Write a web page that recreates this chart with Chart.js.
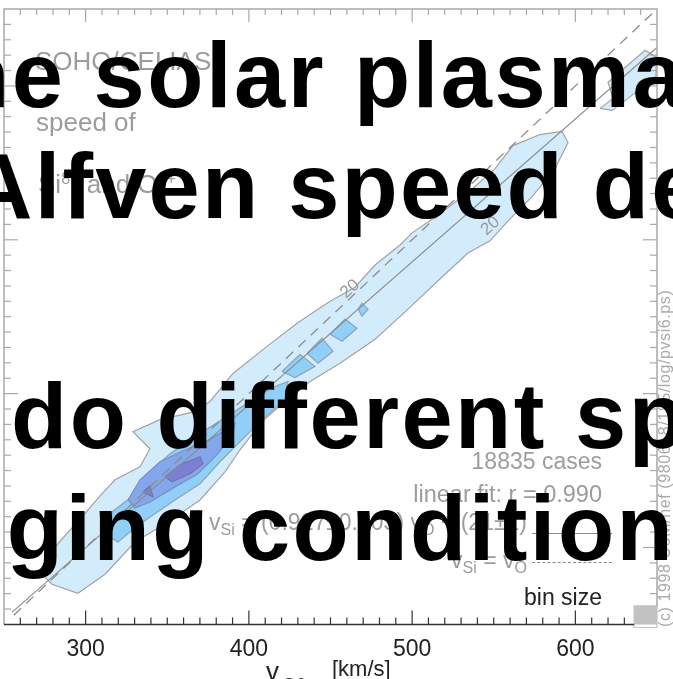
<!DOCTYPE html>
<html><head><meta charset="utf-8">
<script src="https://cdn.jsdelivr.net/npm/chart.js@4"></script>
<style>
html,body{margin:0;padding:0;background:#fff;}
#wrap{position:relative;width:673px;height:679px;overflow:hidden;background:#fff;}
canvas{position:absolute;left:0;top:0;}
.ann{position:absolute;font-family:"Liberation Sans",Arial,sans-serif;color:#9c9c9c;white-space:nowrap;line-height:1;}
.r{text-align:right;}
.sb{font-size:0.7em;position:relative;top:0.3em;}
.sp{font-size:0.62em;position:relative;top:-0.55em;}
.big{position:absolute;font-family:"Liberation Sans",Arial,sans-serif;font-weight:bold;font-size:92px;letter-spacing:2.5px;color:#000;white-space:nowrap;line-height:92px;}
.ls{position:absolute;height:0;border-top:1.3px solid #8a8a8a;}
</style></head><body>
<div id="wrap">
<canvas id="c" width="673" height="679"></canvas>

<div class="ann" style="left:35px;top:48px;font-size:26px;">SOHO/CELIAS</div>
<div class="ann" style="left:36px;top:109px;font-size:26px;">speed of</div>
<div class="ann" style="left:38px;top:171px;font-size:26px;">Si<span class="sp">8+</span> and O<span class="sp">6+</span></div>

<div class="ann r" style="right:71px;top:450px;font-size:23px;">18835 cases</div>
<div class="ann r" style="right:71px;top:483px;font-size:23.5px;">linear fit: r = 0.990</div>
<div class="ann r" style="right:146px;top:511px;font-size:23px;">v<span class="sb">Si</span> = (0.927±0.003) v<span class="sb">O</span> + (21±1)</div>
<div class="ls" style="left:532px;top:533px;width:80px;"></div>
<div class="ann r" style="right:146px;top:549px;font-size:23px;">v<span class="sb">Si</span> = v<span class="sb">O</span></div>
<div class="ls" style="left:532px;top:562px;width:80px;border-top-style:dashed;"></div>
<div class="ann r" style="right:71px;top:586px;font-size:23px;color:#222;">bin size</div>

<div class="ann" style="left:657px;top:627px;font-size:16px;letter-spacing:0.6px;color:#aaa;transform:rotate(-90deg);transform-origin:left top;">(c) 1998 UoM/hef (980618/185/log/pvsi6.ps)</div>

<div class="ann" style="left:266px;top:658px;font-size:26px;color:#222;">v</div>
<div class="ann" style="left:282px;top:676px;font-size:18px;color:#222;">O6+</div>
<div class="ann" style="left:332px;top:658px;font-size:22px;color:#222;">[km/s]</div>

<div class="big" style="left:-80px;top:29px;">the solar plasma</div>
<div class="big" style="left:-34px;top:140px;letter-spacing:2.2px;">Alfven speed de</div>
<div class="big" style="left:11px;top:370px;">do different sp</div>
<div class="big" style="left:-52px;top:482px;">nging condition</div>
</div>
<script>
// ---- data (km/s) ----
const xTickLabels = [300, 400, 500, 600];
const identityLine = [[256, 256], [649, 649]];
const fitLine = [[255, 258], [650, 625]];
const outerBand = [[295.3,270.2],[279.4,276.1],[272.1,283.9],[276.3,293.7],[285.5,305.5],[297.8,319.8],[308.8,333.5],[318.0,344.0],[333.3,352.4],[339.4,364.2],[329.0,375.3],[345.6,383.1],[367.0,388.3],[376.2,394.9],[390.3,413.1],[411.1,430.7],[429.5,445.8],[449.7,460.1],[465.0,469.2],[477.3,483.6],[492.6,496.6],[500.0,504.5],[517.1,516.9],[535.5,531.9],[550.8,546.2],[561.8,561.2],[578.3,568.4],[591.8,570.4],[595.5,563.2],[587.5,546.2],[573.5,528.0],[558.8,512.3],[547.7,499.3],[534.2,491.4],[518.3,475.8],[497.5,454.9],[477.3,435.3],[455.8,419.7],[437.5,407.9],[423.4,396.2],[408.1,381.8],[394.6,363.5],[385.4,349.2],[370.1,330.9],[350.5,316.6],[330.2,303.5],[311.9,282.6],[295.3,270.2]];
const outerIsland = [[615.1,585.4],[623.1,591.9],[620.0,602.4],[642.7,623.2],[649.4,618.7],[649.4,606.3],[632.3,591.9],[622.5,584.1],[615.1,585.4]];
const level2Lower = [[314.9,306.8],[316.2,323.1],[324.1,329.6],[333.3,337.4],[339.4,349.2],[351.7,360.9],[367.0,372.0],[383.5,383.1],[400.7,394.9],[416.0,404.6],[424.0,407.9],[422.1,396.2],[408.1,383.1],[394.6,368.8],[382.3,355.7],[370.1,341.4],[354.8,330.9],[339.4,319.8],[327.2,310.0],[319.8,303.5],[314.9,306.8]];
const level2D1 = [[466.9,454.9],[469.3,458.8],[473.0,454.9],[469.3,450.3],[466.9,454.9]];
const level2D2 = [[449.7,438.6],[458.9,448.4],[466.2,442.5],[457.1,434.0],[449.7,438.6]];
const level2D3 = [[435.6,426.2],[444.8,436.0],[451.5,427.5],[442.4,419.7],[435.6,426.2]];
const level2D4 = [[420.3,414.4],[431.3,425.5],[440.5,417.7],[428.3,410.5],[420.3,414.4]];
const level3 = [[326.0,330.9],[333.3,344.0],[345.6,355.7],[360.9,363.5],[376.2,370.1],[391.5,380.5],[389.7,372.0],[379.3,359.0],[368.8,347.9],[354.8,339.4],[339.4,329.6],[330.2,325.7],[326.0,330.9]];
const level4 = [[348.6,345.9],[357.8,353.7],[370.1,359.0],[371.9,354.4],[363.9,347.9],[352.9,342.7],[348.6,345.9]];
const level4Small = [[335.2,336.1],[339.4,340.0],[341.3,332.9],[335.2,336.1]];
const binSquare = [[636,248],[650,248],[650,262],[636,262],[636,248]];
const contourLabels = [[462, 468, '20'], [548, 509, '20']];

const pts = a => a.map(p => ({x: p[0], y: p[1]}));
function poly(data, fillC, lineC, order) {
  return {data: pts(data), showLine: true, fill: 'shape', backgroundColor: fillC,
    borderColor: lineC, borderWidth: 1.2, pointRadius: 0, tension: 0, order: order, clip: 4};
}

const framePlugin = {
  id: 'frame',
  afterDatasetsDraw(chart) {
    const {ctx, chartArea: a, scales: {x, y}} = chart;
    ctx.save();
    ctx.fillStyle = '#9a9a9a';
    ctx.font = '17px "Liberation Sans", Arial, sans-serif';
    ctx.textAlign = 'center'; ctx.textBaseline = 'middle';
    contourLabels.forEach(l => {
      ctx.save();
      ctx.translate(x.getPixelForValue(l[0]), y.getPixelForValue(l[1]));
      ctx.rotate(-0.72);
      ctx.fillText(l[2], 0, 0);
      ctx.restore();
    });
    const bx = x.getPixelForValue(binSquare[0][0]);
    const by = y.getPixelForValue(binSquare[2][1]);
    ctx.lineWidth = 1.5;
    ctx.strokeStyle = '#a9a9a9';
    ctx.beginPath();
    ctx.moveTo(a.left, a.bottom); ctx.lineTo(a.left, a.top);
    ctx.lineTo(a.right, a.top); ctx.lineTo(a.right, by);
    ctx.stroke();
    ctx.strokeStyle = '#333';
    ctx.beginPath(); ctx.moveTo(a.left, a.bottom); ctx.lineTo(bx, a.bottom); ctx.stroke();
    ctx.lineWidth = 1.2;
    for (let v = 260; v < 650; v += 10) {
      const major = v % 100 === 0;
      const px = x.getPixelForValue(v);
      const py = y.getPixelForValue(v);
      if (px < bx - 1) {
        ctx.strokeStyle = '#333';
        ctx.beginPath(); ctx.moveTo(px, a.bottom); ctx.lineTo(px, a.bottom - (major ? 14 : 7)); ctx.stroke();
      }
      ctx.strokeStyle = '#a9a9a9';
      ctx.beginPath(); ctx.moveTo(px, a.top); ctx.lineTo(px, a.top + (major ? 13 : 6)); ctx.stroke();
      ctx.beginPath(); ctx.moveTo(a.left, py); ctx.lineTo(a.left + (major ? 14 : 7), py); ctx.stroke();
      if (py < by - 1) {
        ctx.beginPath(); ctx.moveTo(a.right, py); ctx.lineTo(a.right - (major ? 14 : 7), py); ctx.stroke();
      }
    }
    ctx.restore();
  }
};

new Chart(document.getElementById('c'), {
  type: 'scatter',
  data: {datasets: [
    poly(outerBand, '#d3ecfc', '#a3a3a3', 20),
    poly(outerIsland, '#d3ecfc', '#a3a3a3', 19),
    poly(level2Lower, '#8fcff8', '#8fa3b8', 15),
    poly(level2D1, '#8fcff8', '#8fa3b8', 15),
    poly(level2D2, '#8fcff8', '#8fa3b8', 15),
    poly(level2D3, '#8fcff8', '#8fa3b8', 15),
    poly(level2D4, '#8fcff8', '#8fa3b8', 15),
    poly(level3, '#82a7ea', '#7b8fbf', 12),
    poly(level4, '#7c80d2', '#6f74b3', 10),
    poly(level4Small, '#7c80d2', '#6f74b3', 10),
    poly(binSquare, '#c2c2c2', '#c2c2c2', 9),
    {data: pts(identityLine), showLine: true, borderColor: '#8c8c8c', borderWidth: 1.3,
     borderDash: [10, 7], pointRadius: 0, order: 2},
    {data: pts(fitLine), showLine: true, borderColor: '#8c8c8c', borderWidth: 1.2,
     pointRadius: 0, order: 1}
  ]},
  options: {
    responsive: false, animation: false, devicePixelRatio: 1,
    layout: {padding: {left: 4, right: 16, top: 9, bottom: 13}},
    plugins: {legend: {display: false}, tooltip: {enabled: false}},
    scales: {
      x: {type: 'linear', min: 250, max: 650,
          grid: {display: false}, border: {display: false},
          ticks: {font: {family: '"Liberation Sans", Arial, sans-serif', size: 23}, color: '#222', padding: 3},
          afterBuildTicks: s => { s.ticks = xTickLabels.map(v => ({value: v})); }},
      y: {type: 'linear', min: 250, max: 650, display: false}
    }
  },
  plugins: [framePlugin]
});
</script>
</body></html>
